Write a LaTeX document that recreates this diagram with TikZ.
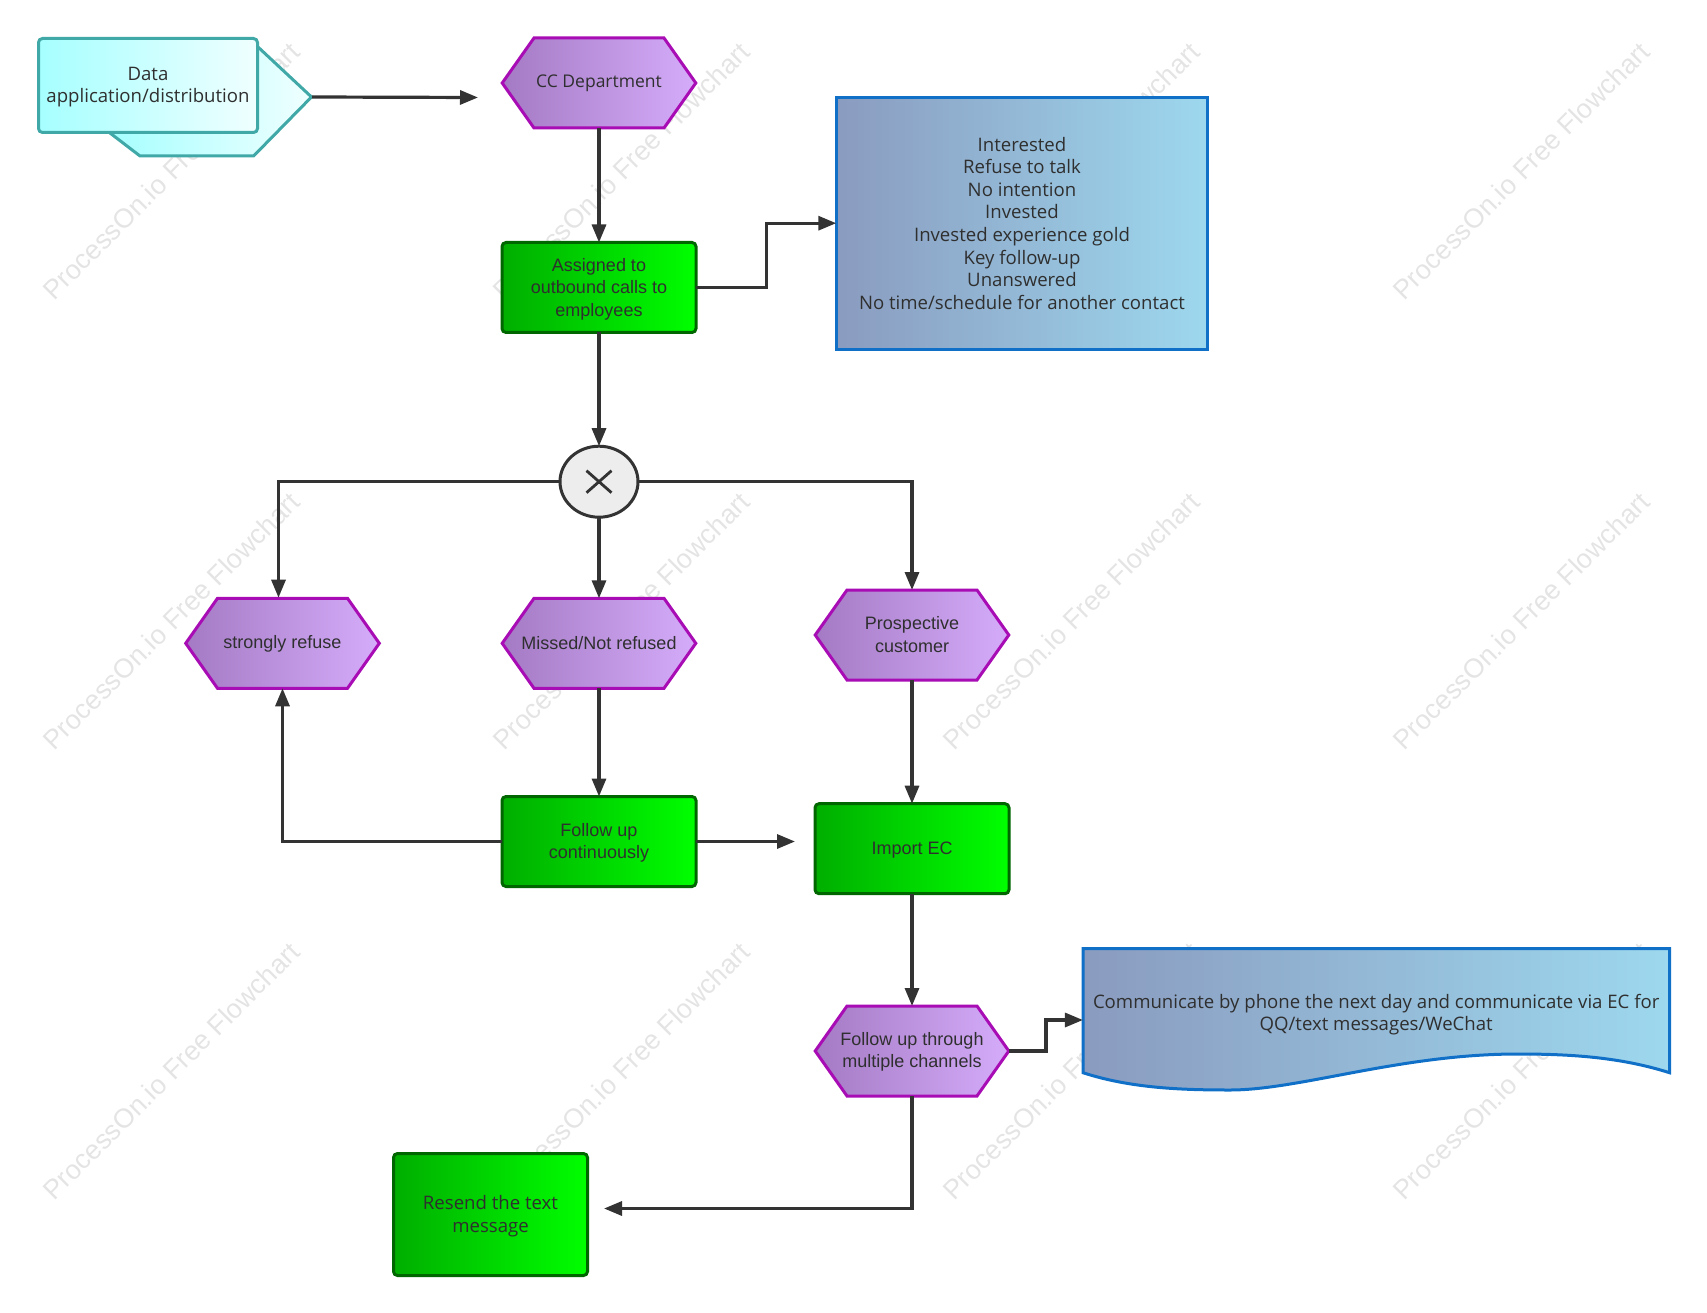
\documentclass[tikz,border=0pt]{standalone}
\usepackage{fontspec}
\setmainfont{Liberation Sans}
\newfontfamily\yahei{Open Sans}
\usetikzlibrary{arrows.meta,calc,shapes.geometric}
\definecolor{cline}{HTML}{333333}
\definecolor{ctext}{HTML}{2F2F2F}
\definecolor{wm}{HTML}{E4E4E4}
\tikzset{
  x=1pt,y=-1pt,
  wmark/.style={text=wm,rotate=45,font=\fontsize{27}{27}\selectfont,inner sep=0pt},
  link/.style={draw=cline,line width=3.2pt,-{Triangle[length=18pt,width=14pt]}},
  box/.style={align=center,inner sep=0pt,outer sep=0pt,text=ctext,font=\fontsize{18}{22.6}\selectfont},
  shell/.style={inner sep=0pt,outer sep=0pt},
  greenbox/.style={shell,draw=green!40!black,line width=3pt,rounded corners=4pt,left color=gL,right color=gR,minimum width=194pt},
  hexfill/.style={draw=hexB,line width=3pt,left color=hL,right color=hR,line join=miter},
  bluefill/.style={draw=blueB,line width=3pt,left color=bL,right color=bR},
  cyanfill/.style={draw=cyB,line width=3pt,left color=cL,right color=cR},
  ytext/.style={font=\yahei\fontsize{18.6}{22.6}\selectfont},
}
\definecolor{gL}{HTML}{00AE00}\definecolor{gR}{HTML}{00FF00}
\definecolor{hL}{HTML}{A47AC4}\definecolor{hR}{HTML}{D5ACFA}\definecolor{hexB}{HTML}{A80CB4}
\definecolor{bL}{HTML}{8A9BBF}\definecolor{bR}{HTML}{9DD8EE}\definecolor{blueB}{HTML}{1070C8}
\definecolor{cL}{HTML}{A6FFFF}\definecolor{cR}{HTML}{F0FFFF}\definecolor{cyB}{HTML}{41A8A8}
\newcommand{\hexnode}[3]{% name, cx, cy
  \path[hexfill] (#2-96.8,#3) -- (#2-65,#3-45) -- (#2+65,#3-45) -- (#2+96.8,#3) -- (#2+65,#3+45) -- (#2-65,#3+45) -- cycle;
  \node[shell,minimum width=193.6pt,minimum height=90pt] (#1) at (#2,#3) {};
}
\newcommand{\labelat}[4][]{% style, name, dy, text
  \node[box,#1] (#2-t) at ($(#2.center)+(0,#3)$) {#4};
}
\begin{document}
\begin{tikzpicture}
\useasboundingbox (0,0) rectangle (1707,1313);
% watermarks
\foreach \i in {0,1,2,3}{\foreach \j in {0,1,2}{
  \node[wmark] (wm\i\j) at ({171+450*\i},{171+450*\j}) {ProcessOn.io Free Flowchart};
}}
% data shape
\path[cyanfill,line join=miter] (258,47) -- (311.5,97) -- (253.6,156) -- (140,156) -- (110,133) -- cycle;
\node[shell,draw=cyB,line width=3pt,rounded corners=4pt,left color=cL,right color=cR,minimum width=219pt,minimum height=94pt] (data) at (148,85.5) {};
\labelat[ytext]{data}{1.5}{Data\\application/distribution}
\coordinate (tip) at (312,97);
\coordinate (cctip) at (478,97.5);
\hexnode{cc}{599}{83}
\labelat[ytext,font=\yahei\fontsize{17.5}{22.6}\selectfont]{cc}{0.5}{CC Department}
\node[greenbox,minimum height=90pt] (assign) at (599,287.5) {};
\labelat{assign}{1.5}{Assigned to\\outbound calls to\\employees}
\node[shell,draw=blueB,line width=3pt,left color=bL,right color=bR,minimum width=371.5pt,minimum height=252pt] (info) at (1022,223.2) {};
\labelat[ytext]{info}{0}{Interested\\Refuse to talk\\No intention\\Invested\\Invested experience gold\\Key follow-up\\Unanswered\\No time/schedule for another contact}
\node[shell,draw=cline,line width=3pt,fill=black!7,ellipse,minimum width=78pt,minimum height=71pt] (gw) at (599,481.7) {};
\draw[cline,line width=2.8pt] (586.5,470.7) -- (611.5,492.7) (586.5,492.7) -- (611.5,470.7);
\hexnode{strong}{282.5}{643.3}
\labelat{strong}{0.5}{strongly refuse}
\hexnode{missed}{599}{643.3}
\labelat{missed}{-0.5}{Missed/Not refused}
\hexnode{prosp}{912}{635}
\labelat{prosp}{-0.5}{Prospective\\customer}
\node[greenbox,minimum height=90pt] (follow) at (599,841.5) {};
\labelat{follow}{1.5}{Follow up\\continuously}
\node[greenbox,minimum height=90pt] (import) at (912,848.7) {};
\labelat{import}{1.5}{Import EC}
\hexnode{multi}{912}{1051}
\labelat{multi}{1}{Follow up through\\multiple channels}
\path[bluefill] (1083,948.5) -- (1669.5,948.5) -- (1669.5,1072.7) .. controls (1620,1057) and (1570,1054) .. (1518,1054) .. controls (1400,1054) and (1300,1090) .. (1230,1090) .. controls (1180,1090) and (1130,1088) .. (1083,1072.7) -- cycle;
\node[shell,minimum width=586.5pt,minimum height=124.2pt] (doc) at (1376.2,1013) {};
\labelat[ytext]{doc}{1.8}{Communicate by phone the next day and communicate via EC for\\QQ/text messages/WeChat}
\node[greenbox,minimum height=122pt] (resend) at (490.5,1214.5) {};
\labelat[ytext]{resend}{1.5}{Resend the text\\message}
% connectors
\coordinate (e1) at (766.5,223.2);
\coordinate (e2) at (278.5,597.7);
\coordinate (e3) at (1046,1020);
\coordinate (e4) at (912,1208.5);
\coordinate (e5) at (604,1208.5);
\coordinate (e6) at (795,842.5);
\draw[link] (tip) -- (cctip);
\draw[link] (cc.south) -- (assign.north);
\draw[link] (assign.east) -| (e1) -- (info.west);
\draw[link] (assign.south) -- (gw.north);
\draw[link] (gw.west) -| (e2);
\draw[link] (gw.south) -- (missed.north);
\draw[link] (gw.east) -| (prosp.north);
\draw[link] (missed.south) -- (follow.north);
\draw[link] (prosp.south) -- (import.north);
\draw[link] (follow.west) -| (strong.south);
\draw[link] (follow.east) -- (follow.east -| e6);
\draw[link] (import.south) -- (multi.north);
\draw[link] (multi.east) -| (e3) -- (e3 -| doc.west);
\draw[link] (multi.south) -- (e4) -- (e5);
\end{tikzpicture}
\end{document}
